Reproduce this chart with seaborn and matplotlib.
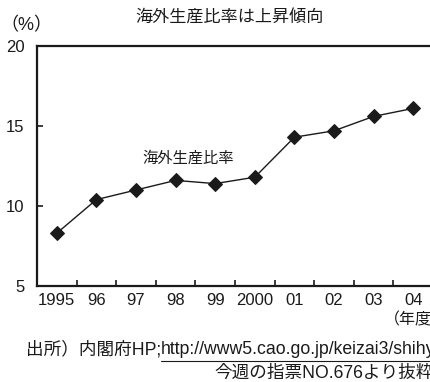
import matplotlib
matplotlib.use("Agg")
import matplotlib.pyplot as plt
from matplotlib.lines import Line2D
import seaborn as sns
import pandas as pd
import numpy as np

# Overseas production ratio (%) by fiscal year
years = ["1995", "96", "97", "98", "99", "2000", "01", "02", "03", "04"]
ratio = [8.3, 10.4, 11.0, 11.6, 11.4, 11.8, 14.3, 14.7, 15.6, 16.1]
y_ticks = [5, 10, 15, 20]

title = "海外生産比率は上昇傾向"
series_label = "海外生産比率"
y_unit = "（%）"
x_unit = "（年度）"
source_prefix = "出所）内閣府HP;"
source_url = "http://www5.cao.go.jp/keizai3/shihyo/"
source_line2 = "今週の指票NO.676より抜粋"

sns.set_theme(style="white")
plt.rcParams["font.family"] = ["Liberation Sans", "Noto Sans CJK JP", "DejaVu Sans"]

W, H = 430, 382
fig = plt.figure(figsize=(W / 100, H / 100), dpi=100)
fig.patch.set_facecolor("white")

def fx(px):
    return px / W

def fy(py):
    return 1 - py / H

# axes box: the right edge runs just past the figure border
left, right, top, bottom = 37, 433, 46, 286
ax = fig.add_axes([fx(left), fy(bottom), fx(right - left), (bottom - top) / H])
ax.set_facecolor("white")

df = pd.DataFrame({"x": np.arange(len(years)), "ratio": ratio})
sns.lineplot(data=df, x="x", y="ratio", ax=ax, color="#1a1a1a", linewidth=1.0,
             marker="D", markersize=7, markeredgecolor="#1a1a1a",
             markerfacecolor="#1a1a1a", clip_on=False)

ax.set_xlim(-0.5, len(years) - 0.5)
ax.set_ylim(5, 20)
ax.set_xlabel("")
ax.set_ylabel("")

ax.set_xticks(np.arange(len(years)))
ax.set_xticklabels(years)
ax.set_xticks(np.arange(len(years) - 1) + 0.5, minor=True)
ax.tick_params(axis="x", which="major", length=0, pad=5, labelsize=12,
               labelcolor="#1a1a1a")
ax.tick_params(axis="x", which="minor", direction="in", length=4, width=1.2,
               color="#1a1a1a", bottom=True)

ax.set_yticks(y_ticks)
ax.set_yticklabels([str(v) for v in y_ticks])
ax.tick_params(axis="y", which="major", direction="in", length=4, width=1.2,
               color="#1a1a1a", pad=9, labelsize=12, labelcolor="#1a1a1a",
               left=True)

for side in ["left", "bottom", "top", "right"]:
    ax.spines[side].set_visible(True)
    ax.spines[side].set_linewidth(1.6)
    ax.spines[side].set_color("#1a1a1a")

ax.text(3.32, 13.0, series_label, ha="center", va="center", fontsize=11,
        color="#1a1a1a")

fig.text(fx(230), fy(18), title, ha="center", va="center", fontsize=12.3,
         color="#1a1a1a")
fig.text(fx(0), fy(26), y_unit, ha="left", va="center", fontsize=13,
         color="#1a1a1a")
fig.text(fx(384), fy(320), x_unit, ha="left", va="center", fontsize=11.5,
         color="#1a1a1a")

# source note with underlined URL
src_size = 12.7
t1 = fig.text(fx(26), fy(350), source_prefix, ha="left", va="center",
              fontsize=src_size, color="#1a1a1a")
fig.canvas.draw()
renderer = fig.canvas.get_renderer()
bb = t1.get_window_extent(renderer).transformed(fig.transFigure.inverted())
t2 = fig.text(bb.x1, fy(350), source_url, ha="left", va="center",
              fontsize=src_size, color="#1a1a1a")
bb2 = t2.get_window_extent(renderer).transformed(fig.transFigure.inverted())
fig.add_artist(Line2D([bb2.x0, 1.0], [fy(361), fy(361)], transform=fig.transFigure,
                      color="#1a1a1a", linewidth=0.8))
fig.text(fx(214), fy(373), source_line2, ha="left", va="center", fontsize=src_size,
         color="#1a1a1a")

fig.savefig("out.png", dpi=100, facecolor="white")
